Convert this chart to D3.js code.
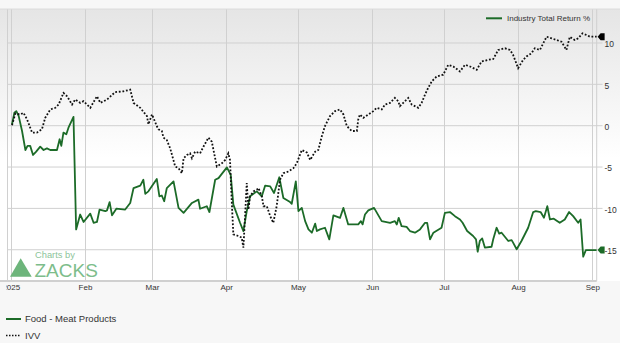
<!DOCTYPE html>
<html>
<head>
<meta charset="utf-8">
<script src="https://cdn.jsdelivr.net/npm/d3@7"></script>
<style>
  html, body { margin: 0; padding: 0; background: #f7f7f7; }
  svg { display: block; font-family: "Liberation Sans", Arial, sans-serif; }
</style>
</head>
<body>
<div id="chart"></div>
<script>
// days counted from Jan 1 2025, values in %
const ivvDays = [0.5, 1.9, 4.0, 5.3, 6.8, 8.9, 10.9, 13.0, 14.4, 16.5, 18.6, 20.0, 22.0, 23.5, 25.6, 26.9, 29.0, 30.4, 33.2, 36.0,
  37.4, 40.2, 43.6, 47.1, 49.9, 51.3, 54.1, 56.9, 57.5, 59.0, 61.0, 61.7, 63.1, 63.8, 65.2, 66.6, 68.7, 70.1, 71.5, 72.2,
  73.6, 74.9, 75.7, 77.0, 79.1, 80.5, 82.6, 84.0, 86.1, 88.2, 89.6, 90.9, 91.6, 92.3, 93.0, 95.1, 96.5, 97.2, 97.9, 98.6,
  99.3, 100.0, 101.4, 102.8, 103.5, 104.9, 105.6, 107.0, 108.4, 109.7, 111.1, 112.5, 113.9, 116.0, 118.1, 119.5, 121.6, 123.7, 125.1, 127.2,
  128.5, 129.9, 131.3, 133.4, 135.5, 137.6, 139.0, 140.4, 142.5, 144.6, 145.2, 145.9, 147.3, 149.4, 151.5, 152.9, 155.0, 156.4, 158.5, 160.5,
  161.9, 162.6, 164.7, 166.1, 167.5, 170.3, 171.7, 173.1, 174.4, 175.9, 178.0, 180.7, 182.8, 184.9, 187.7, 189.8, 191.9, 194.7, 196.7, 199.5,
  201.6, 203.7, 206.5, 208.6, 209.9, 212.0, 214.1, 215.5, 217.6, 219.0, 221.1, 223.9, 226.0, 228.1, 230.1, 232.2, 233.6, 235.7, 237.1, 238.9,
  240.6, 242.0, 244.8];
const ivvValues = [0, 1.4, 1.3, 1.5, 0.7, -0.9, -0.9, -0.5, 0.9, 1.9, 2.1, 2.5, 3.9, 3.5, 2.5, 3.1, 2.7, 2.9, 2.1, 3.5,
  2.7, 3.1, 4.0, 4.1, 4.3, 2.7, 2.1, 1.1, 0.1, 1.3, -0.1, -0.5, -0.7, -1.5, -1.8, -2.8, -5.0, -5.2, -5.8, -4.0,
  -3.6, -3.4, -4.0, -3.2, -3.4, -2.6, -1.5, -2.0, -5.0, -4.6, -4.2, -3.4, -4.2, -9.0, -13.2, -13.4, -13.6, -14.8, -11.0, -7.0,
  -10.2, -8.6, -8.0, -7.8, -7.6, -8.6, -9.8, -9.8, -11.0, -11.8, -9.8, -6.6, -5.8, -5.6, -5.2, -4.6, -3.0, -3.3, -4.2, -3.2,
  -3.0, -1.4, -0.1, 1.1, 1.7, 1.9, 1.3, -0.1, -0.7, -0.7, 0.7, 1.3, 0.9, 1.3, 1.7, 2.1, 1.9, 2.5, 2.7, 3.3,
  2.9, 2.3, 2.9, 3.3, 2.5, 2.1, 2.7, 3.7, 4.5, 5.3, 5.9, 6.1, 7.3, 7.1, 6.5, 7.3, 7.1, 6.7, 7.7, 7.9,
  8.0, 9.1, 9.3, 9.1, 8.5, 6.9, 7.9, 8.3, 8.7, 9.3, 9.1, 10.7, 10.5, 10.3, 10.1, 9.1, 10.7, 10.3, 10.5, 11.1,
  10.9, 10.7, 10.7];

const foodDays = [0.5, 1.5, 2.3, 3.3, 4.7, 6.1, 7.0, 8.1, 9.3, 10.6, 12.3, 13.7, 15.1, 16.5, 19.3, 20.4, 21.1, 22.0, 23.2, 24.1,
  26.2, 27.3, 29.0, 30.4, 33.2, 34.6, 36.0, 37.1, 39.5, 40.2, 41.3, 42.3, 44.1, 47.8, 49.9, 51.3, 54.1, 55.4, 56.2, 57.5,
  61.0, 62.1, 63.1, 64.1, 65.2, 68.0, 70.1, 72.2, 75.7, 78.4, 79.1, 81.9, 83.0, 85.4, 86.8, 90.3, 91.9, 93.0, 95.8, 97.2,
  98.6, 100.0, 102.8, 104.9, 106.3, 108.4, 110.0, 112.2, 113.9, 116.7, 117.4, 119.1, 120.2, 121.6, 123.0, 124.4, 125.8, 127.2, 127.9, 129.2,
  131.3, 133.1, 134.8, 137.6, 139.0, 141.0, 145.2, 146.3, 147.0, 148.0, 149.4, 151.8, 155.0, 158.5, 160.5, 161.3, 162.1, 163.3, 165.4, 166.8,
  168.9, 171.0, 173.1, 174.0, 175.2, 176.6, 180.0, 181.4, 183.5, 185.6, 187.7, 188.8, 190.7, 193.2, 194.4, 195.1, 196.0, 197.0, 198.1, 200.9,
  201.6, 203.0, 204.1, 205.1, 207.9, 209.3, 209.9, 211.4, 213.4, 216.2, 218.3, 219.4, 221.4, 222.8, 224.2, 225.3, 226.9, 229.4, 231.5, 233.3,
  235.0, 237.1, 238.1, 239.2, 240.3, 244.8];
const foodValues = [0.1, 1.5, 1.7, 1.1, -0.7, -3.0, -2.5, -2.5, -3.6, -3.2, -2.6, -3.0, -2.8, -3.0, -3.0, -1.7, -2.5, -0.9, -1.1, -0.3,
  1.0, -12.6, -10.8, -11.7, -10.7, -11.8, -11.7, -10.2, -10.4, -10.3, -9.3, -10.9, -10.1, -10.2, -9.4, -7.6, -7.3, -6.6, -8.3, -8.0,
  -6.5, -8.6, -8.5, -9.2, -7.6, -6.8, -10.0, -10.6, -9.4, -9.0, -10.1, -9.8, -10.5, -6.6, -6.4, -5.1, -6.0, -9.6, -11.8, -12.8,
  -10.4, -8.6, -8.0, -8.6, -7.3, -7.4, -8.2, -6.3, -8.8, -9.3, -9.5, -6.8, -10.4, -10.0, -11.6, -12.6, -13.0, -11.9, -12.8, -12.6,
  -12.4, -13.8, -10.9, -11.2, -10.0, -12.0, -12.0, -11.6, -12.0, -10.8, -10.3, -10.0, -11.6, -11.8, -11.6, -12.0, -11.2, -12.2, -12.3, -12.8,
  -13.0, -12.6, -11.8, -11.8, -13.8, -13.0, -12.4, -10.6, -10.5, -11.0, -11.4, -11.8, -12.8, -13.4, -13.8, -15.3, -14.0, -13.7, -14.8, -14.7,
  -13.8, -12.4, -13.1, -13.0, -14.0, -13.9, -14.2, -15.0, -14.0, -12.4, -10.5, -10.4, -10.5, -11.2, -9.8, -11.4, -11.3, -11.8, -11.4, -10.5,
  -11.0, -11.8, -11.4, -15.9, -15.1, -15.1];

const yTicks = [10, 5, 0, -5, -10, -15];
const seriesNames = ['Food - Meat Products', 'IVV'];
const topLegendLabel = 'Industry Total Return %';

const width = 620;
const height = 343;
const plot = { left: 7.5, right: 596.7, top: 9, bottom: 281 };
const green = '#1c6b28';
const gridColor = '#d0d0d0';
const textColor = '#333';

const start = new Date(2025, 0, 1);
const toDate = d => new Date(+start + d * 864e5);

const svg = d3.select('#chart')
  .append('svg')
  .attr('width', width)
  .attr('height', height);

const defs = svg.append('defs');
const grad = defs.append('linearGradient')
  .attr('id', 'bg')
  .attr('x1', 0).attr('y1', 0).attr('x2', 0).attr('y2', 1);
grad.append('stop').attr('offset', '0%').attr('stop-color', '#e5e5e5');
grad.append('stop').attr('offset', '55%').attr('stop-color', '#ffffff');
grad.append('stop').attr('offset', '100%').attr('stop-color', '#ffffff');

defs.append('clipPath').attr('id', 'labelClip')
  .append('rect')
  .attr('x', 6.3).attr('y', -20)
  .attr('width', width).attr('height', 60);

svg.append('rect')
  .attr('x', 0)
  .attr('y', plot.top)
  .attr('width', width)
  .attr('height', plot.bottom - plot.top)
  .attr('fill', 'url(#bg)');

const x = d3.scaleTime()
  .domain([toDate(-1.38), toDate(244.84)])
  .range([plot.left, plot.right]);

const y = d3.scaleLinear()
  .domain([-18.84, 14.05])
  .range([plot.bottom, plot.top]);

const months = x.ticks(d3.timeMonth.every(1));

// vertical grid
svg.append('g')
  .selectAll('line')
  .data(months)
  .enter()
  .append('line')
  .attr('x1', d => Math.round(x(d)) + 0.5)
  .attr('x2', d => Math.round(x(d)) + 0.5)
  .attr('y1', plot.top)
  .attr('y2', plot.bottom)
  .attr('stroke', gridColor);

// horizontal grid + right labels
const yAxis = svg.append('g')
  .attr('transform', `translate(${plot.left},0)`)
  .call(d3.axisRight(y)
    .tickValues(yTicks)
    .tickSize(602.5 - plot.left)
    .tickPadding(2)
    .tickFormat(d => d));
yAxis.select('.domain').remove();
yAxis.selectAll('line').attr('stroke', gridColor);
yAxis.selectAll('text')
  .attr('fill', textColor)
  .attr('font-size', 8.5)
  .attr('dy', '0.5em');

// month labels
const xAxis = svg.append('g')
  .attr('transform', `translate(0,${plot.bottom})`)
  .attr('clip-path', 'url(#labelClip)')
  .call(d3.axisBottom(x)
    .tickValues(months)
    .tickSize(0)
    .tickPadding(3)
    .tickFormat(d => d.getMonth() === 0 ? d3.timeFormat('%Y')(d) : d3.timeFormat('%b')(d)));
xAxis.select('.domain').remove();
xAxis.selectAll('text')
  .attr('fill', textColor)
  .attr('font-size', 8);

// plot frame
svg.append('line')
  .attr('x1', plot.left).attr('x2', plot.left)
  .attr('y1', plot.top).attr('y2', plot.bottom)
  .attr('stroke', gridColor);
svg.append('line')
  .attr('x1', plot.right).attr('x2', plot.right)
  .attr('y1', plot.top).attr('y2', plot.bottom)
  .attr('stroke', '#cfcfcf');
svg.append('line')
  .attr('x1', 0).attr('x2', width)
  .attr('y1', plot.top).attr('y2', plot.top)
  .attr('stroke', '#dcdcdc');
svg.append('line')
  .attr('x1', 0).attr('x2', plot.right)
  .attr('y1', plot.bottom).attr('y2', plot.bottom)
  .attr('stroke', '#d0d0d0')
  .attr('stroke-width', 2);

// Zacks logo
const logo = svg.append('g');
logo.append('path')
  .attr('d', 'M20.7,258.3 L31.7,276.7 L10,276.7 Z')
  .attr('fill', '#6db57b');
logo.append('text')
  .attr('x', 35).attr('y', 257.5)
  .attr('font-size', 9.3)
  .attr('fill', '#8cc49a')
  .text('Charts by');
logo.append('text')
  .attr('x', 34.5).attr('y', 277)
  .attr('font-size', 19)
  .attr('fill', '#7dbd8b')
  .text('ZACKS');

const line = d3.line()
  .x(d => x(toDate(d[0])))
  .y(d => y(d[1]));

const ivvData = ivvDays.map((d, i) => [d, ivvValues[i]]);
const foodData = foodDays.map((d, i) => [d, foodValues[i]]);

svg.append('path')
  .datum(foodData)
  .attr('d', line)
  .attr('fill', 'none')
  .attr('stroke', green)
  .attr('stroke-width', 1.8)
  .attr('stroke-linejoin', 'round');

svg.append('path')
  .datum(ivvData)
  .attr('d', line)
  .attr('fill', 'none')
  .attr('stroke', '#111')
  .attr('stroke-width', 1.8)
  .attr('stroke-dasharray', '1.8,1.8');

// end markers
const marker = 'M0,0 L3,-3.5 L7,-3.5 L7,3.5 L3,3.5 Z';
[[ivvData, '#000'], [foodData, green]].forEach(([data, color]) => {
  const last = data[data.length - 1];
  svg.append('path')
    .attr('d', marker)
    .attr('transform', `translate(${x(toDate(last[0])) + 1},${y(last[1])})`)
    .attr('fill', color);
});

// top legend
svg.append('line')
  .attr('x1', 486).attr('x2', 502)
  .attr('y1', 18.3).attr('y2', 18.3)
  .attr('stroke', green)
  .attr('stroke-width', 2);
svg.append('text')
  .attr('x', 507).attr('y', 21)
  .attr('font-size', 8)
  .attr('fill', textColor)
  .text(topLegendLabel);

// bottom legend
const legend = svg.append('g');
seriesNames.forEach((name, i) => {
  const ly = 319 + i * 16.5;
  legend.append('line')
    .attr('x1', 6).attr('x2', 21)
    .attr('y1', ly).attr('y2', ly)
    .attr('stroke', i === 0 ? green : '#111')
    .attr('stroke-width', i === 0 ? 2 : 1.5)
    .attr('stroke-dasharray', i === 0 ? null : '1.5,1.5');
  legend.append('text')
    .attr('x', 25).attr('y', ly + 3.4)
    .attr('font-size', 9.5)
    .attr('fill', textColor)
    .text(name);
});
</script>
</body>
</html>
